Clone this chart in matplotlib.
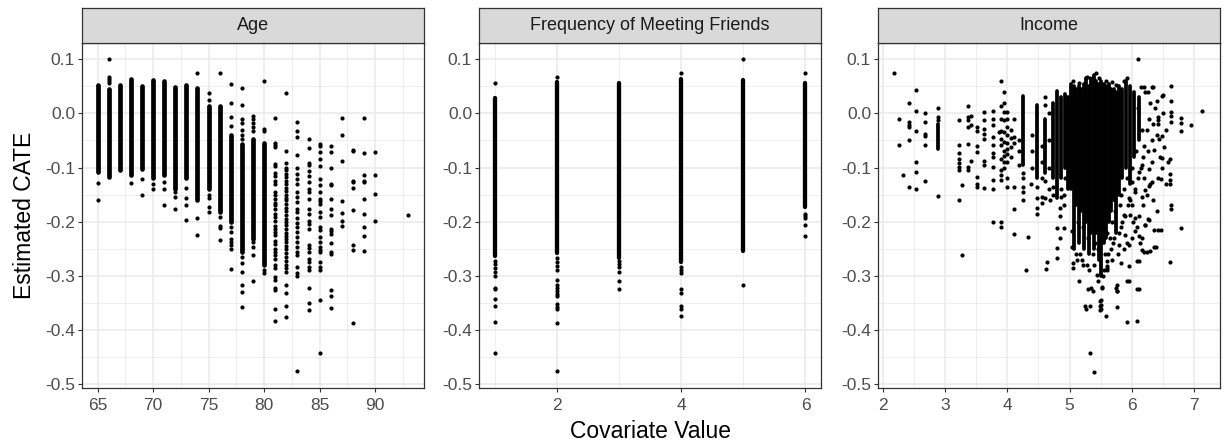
import matplotlib
matplotlib.use("Agg")
import matplotlib.pyplot as plt
from matplotlib.ticker import FixedLocator

plt.rcParams['font.family'] = ['Liberation Sans', 'DejaVu Sans']

# ---------------- data ----------------
# dense runs of points: (covariate, lowest CATE, highest CATE)
age_bands = [
    (65, -0.108, 0.052), (66, -0.117, 0.045), (67, -0.105, 0.052), (68, -0.114, 0.063),
    (69, -0.102, 0.050), (70, -0.120, 0.061), (71, -0.114, 0.060), (72, -0.139, 0.048),
    (73, -0.120, 0.052), (74, -0.160, 0.046), (75, -0.139, 0.013), (76, -0.182, 0.013),
    (77, -0.201, -0.039), (78, -0.256, -0.057), (79, -0.231, -0.048), (80, -0.280, -0.054),
]
# single points: (covariate, CATE)
age_points = [
    (65, -0.128), (65, -0.160),
    (66, 0.101), (66, 0.068), (66, 0.064), (66, 0.060), (66, 0.057),
    (68, -0.128),
    (69, -0.122), (69, -0.150),
    (70, -0.130), (70, -0.139),
    (71, -0.126), (71, -0.140), (71, -0.169),
    (72, -0.145), (72, -0.154), (72, -0.177),
    (73, -0.138), (73, -0.157), (73, -0.169), (73, -0.197),
    (74, 0.074), (74, -0.194), (74, -0.224),
    (75, 0.038), (75, 0.025), (75, -0.150), (75, -0.157), (75, -0.172), (75, -0.182),
    (76, 0.074), (76, -0.191), (76, -0.207), (76, -0.212), (76, -0.234),
    (77, 0.055), (77, 0.019), (77, -0.007), (77, -0.023), (77, -0.210), (77, -0.219),
    (77, -0.231), (77, -0.237), (77, -0.243), (77, -0.250), (77, -0.288),
    (78, 0.046), (78, 0.016), (78, -0.011), (78, -0.017), (78, -0.030), (78, -0.039),
    (78, -0.048), (78, -0.265), (78, -0.277), (78, -0.293), (78, -0.317), (78, -0.329),
    (78, -0.358),
    (79, -0.005), (79, -0.011), (79, -0.017), (79, -0.026), (79, -0.033), (79, -0.237),
    (79, -0.246), (79, -0.262), (79, -0.309),
    (80, 0.059), (80, -0.028), (80, -0.033), (80, -0.289), (80, -0.295),
    (81, -0.008), (81, -0.054), (81, -0.058), (81, -0.062), (81, -0.093), (81, -0.097),
    (81, -0.110), (81, -0.115), (81, -0.124), (81, -0.130), (81, -0.145), (81, -0.151),
    (81, -0.158), (81, -0.165), (81, -0.170), (81, -0.177), (81, -0.185), (81, -0.192),
    (81, -0.198), (81, -0.207), (81, -0.213), (81, -0.219), (81, -0.225), (81, -0.235),
    (81, -0.241), (81, -0.250), (81, -0.256), (81, -0.262), (81, -0.268), (81, -0.280),
    (81, -0.286), (81, -0.302), (81, -0.307), (81, -0.322), (81, -0.326), (81, -0.362),
    (81, -0.383),
    (82, 0.038), (82, -0.069), (82, -0.092), (82, -0.100), (82, -0.105), (82, -0.112),
    (82, -0.118), (82, -0.125), (82, -0.130), (82, -0.137), (82, -0.143), (82, -0.150),
    (82, -0.156), (82, -0.160), (82, -0.168), (82, -0.175), (82, -0.181), (82, -0.188),
    (82, -0.195), (82, -0.200), (82, -0.206), (82, -0.213), (82, -0.220), (82, -0.226),
    (82, -0.232), (82, -0.238), (82, -0.245), (82, -0.251), (82, -0.258), (82, -0.265),
    (82, -0.272), (82, -0.280), (82, -0.286), (82, -0.293), (82, -0.317), (82, -0.332),
    (82, -0.356), (82, -0.375),
    (83, -0.016), (83, -0.033), (83, -0.043), (83, -0.077), (83, -0.100), (83, -0.112),
    (83, -0.121), (83, -0.130), (83, -0.146), (83, -0.155), (83, -0.164), (83, -0.176),
    (83, -0.182), (83, -0.194), (83, -0.203), (83, -0.209), (83, -0.219), (83, -0.228),
    (83, -0.237), (83, -0.246), (83, -0.256), (83, -0.262), (83, -0.283), (83, -0.295),
    (83, -0.301), (83, -0.476),
    (84, -0.048), (84, -0.063), (84, -0.091), (84, -0.096), (84, -0.106), (84, -0.115),
    (84, -0.127), (84, -0.140), (84, -0.146), (84, -0.158), (84, -0.176), (84, -0.185),
    (84, -0.198), (84, -0.204), (84, -0.213), (84, -0.243), (84, -0.249), (84, -0.256),
    (84, -0.268), (84, -0.274), (84, -0.283), (84, -0.289), (84, -0.323), (84, -0.350),
    (84, -0.363),
    (85, -0.057), (85, -0.060), (85, -0.072), (85, -0.085), (85, -0.097), (85, -0.121),
    (85, -0.133), (85, -0.146), (85, -0.158), (85, -0.161), (85, -0.167), (85, -0.182),
    (85, -0.191), (85, -0.210), (85, -0.216), (85, -0.228), (85, -0.237), (85, -0.246),
    (85, -0.252), (85, -0.256), (85, -0.274), (85, -0.283), (85, -0.289), (85, -0.344),
    (85, -0.442),
    (86, -0.060), (86, -0.072), (86, -0.100), (86, -0.130), (86, -0.133), (86, -0.158),
    (86, -0.177), (86, -0.188), (86, -0.213), (86, -0.218), (86, -0.222), (86, -0.240),
    (86, -0.256), (86, -0.259), (86, -0.326), (86, -0.338), (86, -0.360),
    (87, -0.009), (87, -0.039), (87, -0.088), (87, -0.161), (87, -0.184), (87, -0.198),
    (87, -0.207),
    (88, -0.068), (88, -0.070), (88, -0.124), (88, -0.127), (88, -0.138), (88, -0.178),
    (88, -0.243), (88, -0.253), (88, -0.387),
    (89, -0.009), (89, -0.074), (89, -0.113), (89, -0.124), (89, -0.127), (89, -0.158),
    (89, -0.185), (89, -0.210), (89, -0.226), (89, -0.254),
    (90, -0.071), (90, -0.114), (90, -0.149), (90, -0.199),
    (93, -0.188),
]

friends_bands = [
    (1, -0.264, 0.028), (2, -0.258, 0.058), (3, -0.267, 0.056),
    (4, -0.275, 0.064), (5, -0.254, 0.062), (6, -0.172, 0.056),
]
friends_points = [
    (1, 0.056), (1, -0.272), (1, -0.278), (1, -0.285), (1, -0.292), (1, -0.301),
    (1, -0.322), (1, -0.325), (1, -0.342), (1, -0.356), (1, -0.385), (1, -0.442),
    (2, 0.068), (2, -0.267), (2, -0.275), (2, -0.282), (2, -0.289), (2, -0.308),
    (2, -0.316), (2, -0.322), (2, -0.328), (2, -0.334), (2, -0.338), (2, -0.352),
    (2, -0.358), (2, -0.362), (2, -0.387), (2, -0.475),
    (3, -0.273), (3, -0.278), (3, -0.283), (3, -0.293), (3, -0.309), (3, -0.325),
    (4, 0.074), (4, -0.283), (4, -0.289), (4, -0.295), (4, -0.325), (4, -0.331),
    (4, -0.356), (4, -0.361), (4, -0.374),
    (5, 0.100), (5, -0.316),
    (6, 0.074), (6, -0.185), (6, -0.190), (6, -0.194), (6, -0.206), (6, -0.226),
]

income_bands = [
    (2.88, -0.065, -0.020), (4.25, -0.095, 0.033), (4.47, -0.120, 0.015),
    (4.61, -0.110, -0.010), (4.73, -0.120, 0.020), (4.80, -0.157, 0.042),
    (4.86, -0.120, 0.030), (4.92, -0.100, 0.035), (4.98, -0.140, 0.030),
    (5.03, -0.140, 0.055), (5.07, -0.250, 0.050), (5.11, -0.170, 0.045),
    (5.15, -0.240, 0.050), (5.19, -0.180, 0.045), (5.23, -0.250, 0.055),
    (5.27, -0.200, 0.065), (5.31, -0.260, 0.050), (5.35, -0.220, 0.060),
    (5.39, -0.250, 0.070), (5.43, -0.220, 0.060), (5.47, -0.270, 0.055),
    (5.51, -0.300, 0.060), (5.55, -0.240, 0.055), (5.59, -0.230, 0.050),
    (5.63, -0.200, 0.055), (5.67, -0.180, 0.045), (5.71, -0.160, 0.045),
    (5.75, -0.220, 0.040), (5.79, -0.150, 0.050), (5.85, -0.120, 0.045),
    (5.91, -0.100, 0.060), (5.97, -0.130, 0.050), (6.03, -0.080, 0.040),
    (6.12, -0.050, 0.030),
]
income_points = [
    (2.185, 0.074), (2.25, -0.010), (2.25, -0.058), (2.33, -0.113),
    (2.42, 0.019), (2.42, -0.015), (2.42, -0.021), (2.42, -0.025), (2.42, -0.050), (2.42, -0.136),
    (2.53, 0.043), (2.53, 0.005), (2.53, -0.032), (2.53, -0.090), (2.53, -0.108), (2.53, -0.140),
    (2.68, 0.001), (2.68, -0.015), (2.68, -0.038), (2.68, -0.042), (2.68, -0.059), (2.68, -0.124),
    (2.88, 0.010), (2.88, -0.007), (2.88, -0.013), (2.88, -0.152),
    (3.22, -0.013), (3.22, -0.059), (3.22, -0.074), (3.22, -0.084), (3.22, -0.091),
    (3.22, -0.099), (3.22, -0.104), (3.22, -0.159),
    (3.27, -0.133), (3.27, -0.262),
    (3.36, 0.014), (3.36, -0.007), (3.36, -0.013), (3.36, -0.025), (3.36, -0.056),
    (3.36, -0.099), (3.36, -0.105),
    (3.42, -0.005), (3.42, -0.022), (3.42, -0.087),
    (3.52, -0.025), (3.52, -0.032), (3.52, -0.060), (3.52, -0.071), (3.52, -0.117),
    (3.52, -0.131), (3.52, -0.136),
    (3.62, 0.002), (3.62, -0.013), (3.62, -0.029), (3.62, -0.038), (3.62, -0.047),
    (3.62, -0.087), (3.62, -0.095), (3.62, -0.137),
    (3.77, 0.005), (3.77, -0.010), (3.77, -0.022), (3.77, -0.044), (3.77, -0.059),
    (3.77, -0.074), (3.77, -0.080), (3.77, -0.099), (3.77, -0.123), (3.77, -0.139), (3.77, -0.200),
    (3.86, -0.035),
    (3.90, 0.060), (3.90, 0.014), (3.90, -0.010), (3.90, -0.032), (3.90, -0.047),
    (3.90, -0.059), (3.90, -0.084), (3.90, -0.105), (3.90, -0.114), (3.90, -0.123),
    (3.90, -0.200), (3.90, -0.209),
    (3.95, 0.039), (3.95, 0.020), (3.95, 0.002), (3.95, -0.013), (3.95, -0.035),
    (3.95, -0.053), (3.95, -0.069), (3.95, -0.078), (3.95, -0.090), (3.95, -0.100),
    (4.00, 0.002), (4.00, -0.010), (4.00, -0.025), (4.00, -0.040), (4.00, -0.055),
    (4.00, -0.065), (4.00, -0.075), (4.00, -0.090), (4.00, -0.120), (4.00, -0.135),
    (4.06, -0.030), (4.06, -0.045), (4.06, -0.062), (4.06, -0.080),
    (4.10, -0.010), (4.10, -0.043), (4.10, -0.055), (4.10, -0.136), (4.10, -0.177), (4.11, -0.222),
    (4.18, -0.050), (4.18, -0.070), (4.18, -0.095),
    (4.25, -0.110), (4.25, -0.120), (4.25, -0.135), (4.25, -0.145), (4.25, -0.160),
    (4.30, -0.290), (4.33, -0.229),
    (4.40, -0.040), (4.40, -0.070), (4.40, -0.100), (4.38, -0.130),
    (4.47, -0.135), (4.47, -0.157), (4.47, -0.175), (4.47, -0.185),
    (4.55, -0.060), (4.55, -0.090), (4.55, -0.120), (4.55, -0.155), (4.56, -0.165),
    (4.61, 0.030), (4.61, 0.015), (4.61, -0.125), (4.61, -0.157), (4.64, -0.275), (4.62, -0.288),
    (4.67, 0.000), (4.67, -0.050), (4.67, -0.100), (4.67, -0.140), (4.68, -0.160),
    (4.73, -0.135), (4.73, -0.150),
    (4.80, -0.212), (4.80, -0.249), (4.80, -0.267),
    (4.84, -0.230), (4.84, -0.190), (4.84, -0.175), (4.86, -0.140), (4.86, -0.155),
    (4.91, -0.212), (4.91, -0.150), (4.91, -0.170), (4.92, -0.120),
    (5.04, -0.218), (5.04, -0.246), (5.05, -0.276), (5.05, -0.286), (5.16, -0.309),
    (5.25, -0.356), (5.26, -0.362), (5.30, -0.325), (5.33, -0.356), (5.33, -0.442),
    (5.39, -0.477), (5.35, -0.322), (5.38, -0.328), (5.44, -0.298), (5.49, -0.347),
    (5.49, -0.356), (5.49, -0.363), (5.58, -0.374), (5.60, -0.273), (5.60, -0.286),
    (5.75, -0.322), (5.76, -0.328), (5.77, -0.358), (5.83, -0.276), (5.93, -0.385),
    (5.93, -0.309), (6.08, -0.383), (6.08, -0.325), (5.95, -0.281), (6.08, -0.273),
    (6.17, -0.253), (6.25, -0.255), (6.36, -0.246), (6.27, -0.195), (6.43, -0.215),
    (6.22, -0.206), (6.61, -0.275), (6.79, -0.212), (6.63, -0.169), (6.63, -0.177),
    (6.95, -0.022), (7.13, 0.004), (6.79, -0.009), (6.79, -0.018), (6.79, -0.033),
    (6.63, 0.050), (6.63, 0.023), (6.63, 0.003), (6.63, -0.005), (6.63, -0.015),
    (6.62, -0.084), (6.62, -0.111), (6.62, -0.123), (6.62, -0.130), (6.52, -0.062),
    (6.43, -0.120), (6.42, -0.007), (6.42, -0.019), (6.48, 0.033), (6.33, 0.048),
    (6.10, 0.101), (5.88, 0.060), (5.28, 0.068), (5.43, 0.074),
    (6.15, 0.048), (6.20, 0.048), (6.35, 0.048), (6.27, 0.039), (6.50, 0.034),
    (6.40, 0.023), (6.43, -0.013), (6.44, -0.047), (6.49, -0.041), (6.36, -0.068),
    (6.49, -0.082), (6.33, -0.090), (6.17, -0.095), (6.28, -0.102), (6.33, -0.126),
    (6.47, -0.122), (6.22, -0.142), (6.28, -0.134), (6.16, -0.154), (6.28, -0.197),
    (6.22, -0.206), (6.36, -0.215), (6.47, -0.216), (6.12, -0.227), (6.20, -0.255),
    (6.30, -0.254), (6.39, -0.246), (6.11, -0.272), (5.96, -0.309), (6.11, -0.325),
    (5.77, -0.316), (5.77, -0.327), (5.60, -0.281), (5.60, -0.289), (5.52, -0.322),
    (5.51, -0.344), (5.51, -0.353), (5.51, -0.362), (6.01, -0.169), (5.98, -0.188),
    (6.06, -0.194), (6.06, -0.218), (5.90, -0.224), (5.80, -0.243), (5.96, -0.243),
    (6.17, -0.230), (5.82, -0.209), (5.88, -0.188), (6.01, -0.126), (6.12, -0.108),
    (6.20, -0.120), (6.05, -0.145), (5.96, -0.157),
    (5.10, -0.260), (5.12, -0.270), (5.20, -0.270), (5.22, -0.280), (5.28, -0.280),
    (5.32, -0.290), (5.40, -0.280), (5.46, -0.310), (5.52, -0.320), (5.54, -0.300),
    (5.56, -0.290), (5.62, -0.260), (5.66, -0.250), (5.70, -0.240), (5.68, -0.270),
    (5.72, -0.230), (5.80, -0.220), (5.85, -0.200), (5.78, -0.260), (5.88, -0.250),
    (5.92, -0.240), (5.90, -0.190), (5.94, -0.170), (5.98, -0.160), (6.02, -0.200),
    (6.00, -0.230), (6.05, -0.140), (6.10, -0.120), (6.15, -0.100), (6.18, -0.080),
    (6.20, -0.060), (6.25, -0.030), (6.28, -0.010), (6.30, 0.020), (6.22, 0.040),
    (6.26, -0.070), (6.32, -0.050), (6.35, -0.020), (6.38, 0.010), (6.40, -0.040),
    (6.45, -0.080), (6.48, -0.100), (6.30, -0.130), (6.35, -0.160), (6.40, -0.180),
    (6.25, -0.150), (6.18, -0.170), (6.12, -0.190), (6.08, -0.210), (6.14, -0.240),
    (6.55, -0.030), (6.50, 0.000), (6.58, -0.090), (6.55, -0.130),
    (5.05, 0.060), (5.15, 0.057), (5.33, 0.066), (5.48, 0.065), (5.58, 0.060),
    (5.68, 0.058), (5.75, 0.052), (5.92, 0.065),
    (5.13, -0.200), (5.17, -0.260), (5.21, -0.210), (5.29, -0.230), (5.37, -0.260),
    (5.41, -0.240), (5.45, -0.250), (5.57, -0.260), (5.61, -0.220), (5.65, -0.230),
    (5.69, -0.200), (5.73, -0.180), (5.81, -0.170), (5.83, -0.150), (5.87, -0.140),
    (5.93, -0.120), (6.00, -0.100), (6.07, -0.070), (6.16, -0.030), (6.10, 0.010),
]

panels = [
    ("Age", age_bands, age_points, (63.6, 94.4), [65, 70, 75, 80, 85, 90],
     [67.5, 72.5, 77.5, 82.5, 87.5, 92.5], 3.4),
    ("Frequency of Meeting Friends", friends_bands, friends_points, (0.75, 6.25), [2, 4, 6],
     [1, 3, 5], 3.1),
    ("Income", income_bands, income_points, (1.92, 7.42), [2, 3, 4, 5, 6, 7],
     [2.5, 3.5, 4.5, 5.5, 6.5], 2.7),
]
y_ticks = [-0.5, -0.4, -0.3, -0.2, -0.1, 0.0, 0.1]

# ---------------- layout ----------------
W, H = 1225, 447
fig = plt.figure(figsize=(W / 100, H / 100), dpi=100)
lefts = [82, 479, 878]
panel_w = 342
top_px, bottom_px, strip_h = 43, 388, 35
dark = '#333333'

for left, (title, bands, points, xlim, xmaj, xmin, band_lw) in zip(lefts, panels):
    ax = fig.add_axes([left / W, 1 - bottom_px / H, panel_w / W, (bottom_px - top_px) / H])
    ax.set_xlim(*xlim)
    ax.set_ylim(-0.507, 0.130)

    ax.xaxis.set_major_locator(FixedLocator(xmaj))
    ax.xaxis.set_minor_locator(FixedLocator(xmin))
    ax.yaxis.set_major_locator(FixedLocator(y_ticks))
    ax.yaxis.set_minor_locator(FixedLocator([-0.45, -0.35, -0.25, -0.15, -0.05, 0.05]))
    ax.set_xticklabels([f"{v:g}" for v in xmaj])
    ax.set_yticklabels([f"{v:.1f}" for v in y_ticks])
    ax.grid(which='major', color='#EBEBEB', linewidth=1.2)
    ax.grid(which='minor', color='#EBEBEB', linewidth=0.6)
    ax.set_axisbelow(True)
    ax.tick_params(which='major', length=3, width=0.8, color=dark, labelsize=12.5,
                   labelcolor='#4D4D4D', pad=2)
    ax.tick_params(axis='x', which='major', pad=4)
    ax.tick_params(which='minor', length=0)
    for sp in ax.spines.values():
        sp.set_color(dark)
        sp.set_linewidth(0.9)

    bx = [b[0] for b in bands]
    blo = [b[1] for b in bands]
    bhi = [b[2] for b in bands]
    ax.vlines(bx, blo, bhi, colors='black', linewidth=band_lw, capstyle='round', zorder=3)
    ax.scatter([p[0] for p in points], [p[1] for p in points], s=9, c='black',
               linewidths=0, zorder=3)

    # facet strip
    sax = fig.add_axes([left / W, 1 - top_px / H, panel_w / W, strip_h / H])
    sax.set_facecolor('#D9D9D9')
    sax.set_xticks([])
    sax.set_yticks([])
    for sp in sax.spines.values():
        sp.set_color(dark)
        sp.set_linewidth(0.9)
    sax.text(0.5, 0.5, title, ha='center', va='center', fontsize=13, color='#1A1A1A',
             transform=sax.transAxes)

fig.text(25 / W, 1 - 215 / H, "Estimated CATE", rotation=90, ha='center', va='center',
         fontsize=16.5)
fig.text(651 / W, 1 - 432 / H, "Covariate Value", ha='center', va='center', fontsize=16.5)

fig.savefig("out.png", dpi=100, facecolor='white')
